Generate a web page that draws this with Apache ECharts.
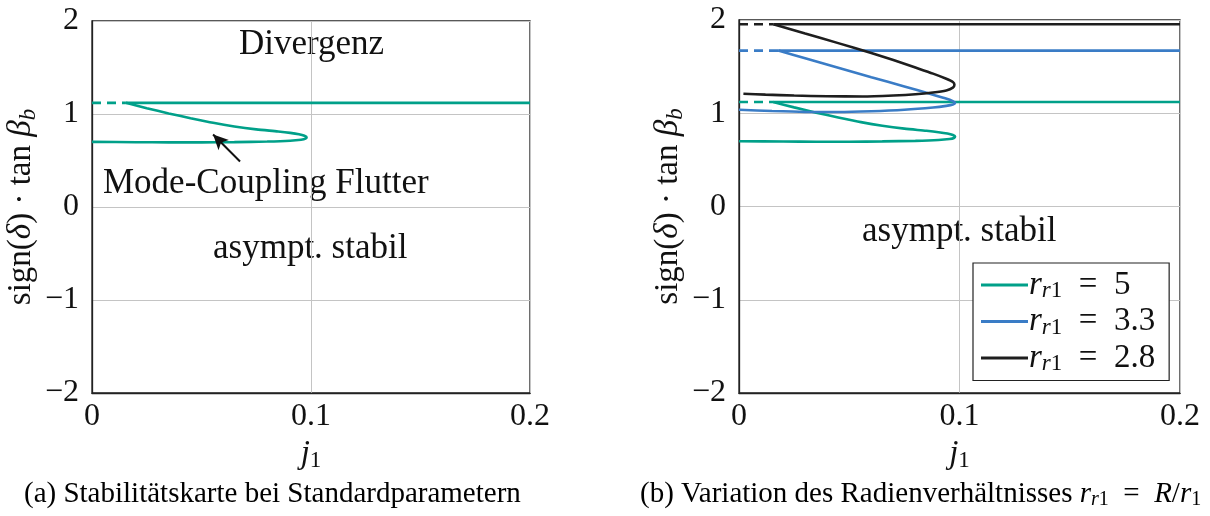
<!DOCTYPE html>
<html>
<head>
    <meta charset="utf-8">
    <title>Stabilitätskarte</title>
    <script src="https://cdn.jsdelivr.net/npm/echarts@6/dist/echarts.min.js"></script>
    <style>
        html, body { margin: 0; padding: 0; background: #fff; }
        #chart { width: 1210px; height: 516px; }
    </style>
</head>
<body>
    <div id="chart"></div>
    <script>
        // --- data ---
        // r_r1 = 5 (also used in panel a)
        var greenX = [0.0155, 0.025, 0.035, 0.045, 0.0553, 0.065, 0.075, 0.085, 0.0905, 0.0945, 0.097, 0.098, 0.0975, 0.0955, 0.0905, 0.08, 0.065, 0.05, 0.035, 0.02, 0];
        var greenY = [1.12, 1.063, 1.006, 0.955, 0.905, 0.866, 0.835, 0.812, 0.797, 0.782, 0.766, 0.75, 0.735, 0.724, 0.713, 0.704, 0.698, 0.695, 0.695, 0.697, 0.70];
        var greenFlat = 1.12;
        var greenStart = 0.0155;

        // r_r1 = 3.3
        var blueX = [0.0178, 0.03, 0.045, 0.06, 0.075, 0.0865, 0.0935, 0.097, 0.098, 0.097, 0.094, 0.088, 0.075, 0.06, 0.045, 0.03, 0.015, 0];
        var blueY = [1.672, 1.59, 1.488, 1.386, 1.288, 1.21, 1.16, 1.13, 1.112, 1.093, 1.079, 1.062, 1.038, 1.022, 1.014, 1.015, 1.024, 1.037];
        var blueFlat = 1.672;
        var blueStart = 0.0178;

        // r_r1 = 2.8
        var blackX = [0.0156, 0.03, 0.045, 0.06, 0.07, 0.08, 0.088, 0.094, 0.097, 0.0977, 0.097, 0.094, 0.088, 0.08, 0.07, 0.056, 0.04, 0.025, 0.012, 0.002];
        var blackY = [1.954, 1.855, 1.752, 1.645, 1.57, 1.49, 1.425, 1.37, 1.335, 1.305, 1.275, 1.245, 1.222, 1.203, 1.19, 1.18, 1.182, 1.19, 1.2, 1.209];
        var blackFlat = 1.954;
        var blackStart = 0.0156;

        var legendNames = ['r5', 'r3.3', 'r2.8'];
        var legendValues = ['5', '3.3', '2.8'];

        // arrow for "Mode-Coupling Flutter" (data coords)
        var arrowFrom = [0.0676, 0.49];
        var arrowTo = [0.0553, 0.78];

        var GREEN = '#00a089';
        var BLUE = '#3a7cc6';
        var BLACK = '#1e1e1e';
        var FONT = 'Liberation Serif';

        function pairs(xs, ys) {
            var out = [];
            for (var i = 0; i < xs.length; i++) out.push([xs[i], ys[i]]);
            return out;
        }

        function tickFmt(v) {
            return String(v).replace('-', '\u2212');
        }

        var mathRich = {
            n: { fontFamily: FONT, fontSize: 33, color: '#111' },
            i: { fontFamily: FONT, fontSize: 33, fontStyle: 'italic', color: '#111' },
            s: { fontFamily: FONT, fontSize: 23, color: '#111', padding: [14, 0, 0, 0] },
            si: { fontFamily: FONT, fontSize: 23, fontStyle: 'italic', color: '#111', padding: [14, 0, 0, 0] }
        };

        function makeAxes(idx) {
            return {
                x: {
                    type: 'value', gridIndex: idx, min: 0, max: 0.2, interval: 0.1,
                    axisLine: { show: true, onZero: false, lineStyle: { color: '#222', width: 1.3 } },
                    axisTick: { show: false },
                    splitLine: { show: true, lineStyle: { color: '#c4c4c4', width: 1 } },
                    axisLabel: { fontFamily: FONT, fontSize: 32, color: '#111', margin: 8, formatter: tickFmt },
                    name: '{i|j}{s|1}', nameLocation: 'middle', nameGap: 42,
                    nameTextStyle: { rich: mathRich }
                },
                y: {
                    type: 'value', gridIndex: idx, min: -2, max: 2, interval: 1,
                    axisLine: { show: true, onZero: false, lineStyle: { color: '#222', width: 1.3 } },
                    axisTick: { show: false },
                    splitLine: { show: true, lineStyle: { color: '#c4c4c4', width: 1 } },
                    axisLabel: { fontFamily: FONT, fontSize: 32, color: '#111', margin: 13, formatter: tickFmt },
                    name: '{n|sign(}{i|δ}{n|) · tan }{i|β}{si|b}', nameLocation: 'middle', nameRotate: 90, nameGap: 52,
                    nameTextStyle: { rich: mathRich }
                }
            };
        }

        var a0 = makeAxes(0), a1 = makeAxes(1);

        function curveSet(idx, name, color, xs, ys, flat, start) {
            return [
                {
                    name: name + '-dash', type: 'line', xAxisIndex: idx, yAxisIndex: idx,
                    data: [[0, flat], [start, flat]], showSymbol: false, silent: true,
                    lineStyle: { color: color, width: 2.6, type: [9, 6] }
                },
                {
                    name: name + '-flat', type: 'line', xAxisIndex: idx, yAxisIndex: idx,
                    data: [[start, flat], [0.2, flat]], showSymbol: false, silent: true,
                    lineStyle: { color: color, width: 2.6 }
                },
                {
                    name: name, type: 'line', xAxisIndex: idx, yAxisIndex: idx,
                    data: pairs(xs, ys), showSymbol: false, smooth: 0.25,
                    itemStyle: { color: color },
                    lineStyle: { color: color, width: 2.6 }
                }
            ];
        }

        var seriesA = curveSet(0, 'a5', GREEN, greenX, greenY, greenFlat, greenStart);
        seriesA[2].markLine = {
            silent: true, symbol: ['none', 'arrow'], symbolSize: [11, 15],
            label: { show: false },
            lineStyle: { color: '#111', width: 2, type: 'solid' },
            data: [[{ coord: arrowFrom }, { coord: arrowTo }]]
        };

        var series = seriesA
            .concat(curveSet(1, legendNames[0], GREEN, greenX, greenY, greenFlat, greenStart))
            .concat(curveSet(1, legendNames[1], BLUE, blueX, blueY, blueFlat, blueStart))
            .concat(curveSet(1, legendNames[2], BLACK, blackX, blackY, blackFlat, blackStart));

        var chart = echarts.init(document.getElementById('chart'));

        var capRich = {
            n: { fontFamily: FONT, fontSize: 29, color: '#111' },
            i: { fontFamily: FONT, fontSize: 29, fontStyle: 'italic', color: '#111' },
            s: { fontFamily: FONT, fontSize: 20, color: '#111', padding: [11, 0, 0, 0] },
            si: { fontFamily: FONT, fontSize: 20, fontStyle: 'italic', color: '#111', padding: [11, 0, 0, 0] }
        };

        var option = {
            animation: false,
            backgroundColor: '#fff',
            grid: [
                { left: 92, right: 680, top: 21, bottom: 123, show: true, borderColor: '#222', borderWidth: 1.3, backgroundColor: 'transparent' },
                { left: 739, right: 30, top: 20, bottom: 123, show: true, borderColor: '#222', borderWidth: 1.3, backgroundColor: 'transparent' }
            ],
            xAxis: [a0.x, a1.x],
            yAxis: [a0.y, a1.y],
            legend: {
                data: legendNames,
                orient: 'vertical',
                left: 973, top: 263,
                padding: [5, 14, 5, 8],
                itemGap: 2,
                itemWidth: 47, itemHeight: 3,
                icon: 'rect',
                backgroundColor: '#fff',
                borderColor: '#222', borderWidth: 1.2, borderRadius: 0,
                formatter: function (name) {
                    return '{i|r}{si|r}{s|1}{n|\u2002=\u2002' + legendValues[legendNames.indexOf(name)] + '}';
                },
                textStyle: {
                    padding: [0, 0, 0, -4],
                    lineHeight: 34,
                    rich: {
                        n: { fontFamily: FONT, fontSize: 33, color: '#111', lineHeight: 34 },
                        i: { fontFamily: FONT, fontSize: 33, fontStyle: 'italic', color: '#111', lineHeight: 34 },
                        s: { fontFamily: FONT, fontSize: 23, color: '#111', padding: [12, 0, 0, 0] },
                        si: { fontFamily: FONT, fontSize: 23, fontStyle: 'italic', color: '#111', padding: [12, 0, 0, 0] }
                    }
                }
            },
            graphic: [
                { type: 'text', x: 239, y: 45, style: { text: 'Divergenz', fontFamily: FONT, fontSize: 35, fill: '#111', align: 'left', verticalAlign: 'middle' } },
                { type: 'text', x: 103, y: 184, style: { text: 'Mode-Coupling Flutter', fontFamily: FONT, fontSize: 35, fill: '#111', align: 'left', verticalAlign: 'middle' } },
                { type: 'text', x: 213, y: 249, style: { text: 'asympt. stabil', fontFamily: FONT, fontSize: 35, fill: '#111', align: 'left', verticalAlign: 'middle' } },
                { type: 'text', x: 862, y: 232, style: { text: 'asympt. stabil', fontFamily: FONT, fontSize: 35, fill: '#111', align: 'left', verticalAlign: 'middle' } },
                {
                    type: 'text', x: 24, y: 494, style: {
                        text: '{n|(a) Stabilitätskarte bei Standardparametern}',
                        align: 'left', verticalAlign: 'middle', rich: capRich
                    }
                },
                {
                    type: 'text', x: 640, y: 494, style: {
                        text: '{n|(b) Variation des Radienverhältnisses }{i|r}{si|r}{s|1}{n|\u2002=\u2002}{i|R}{n|/}{i|r}{s|1}',
                        align: 'left', verticalAlign: 'middle', rich: capRich
                    }
                }
            ],
            series: series
        };
        chart.setOption(option);
    </script>
</body>
</html>
